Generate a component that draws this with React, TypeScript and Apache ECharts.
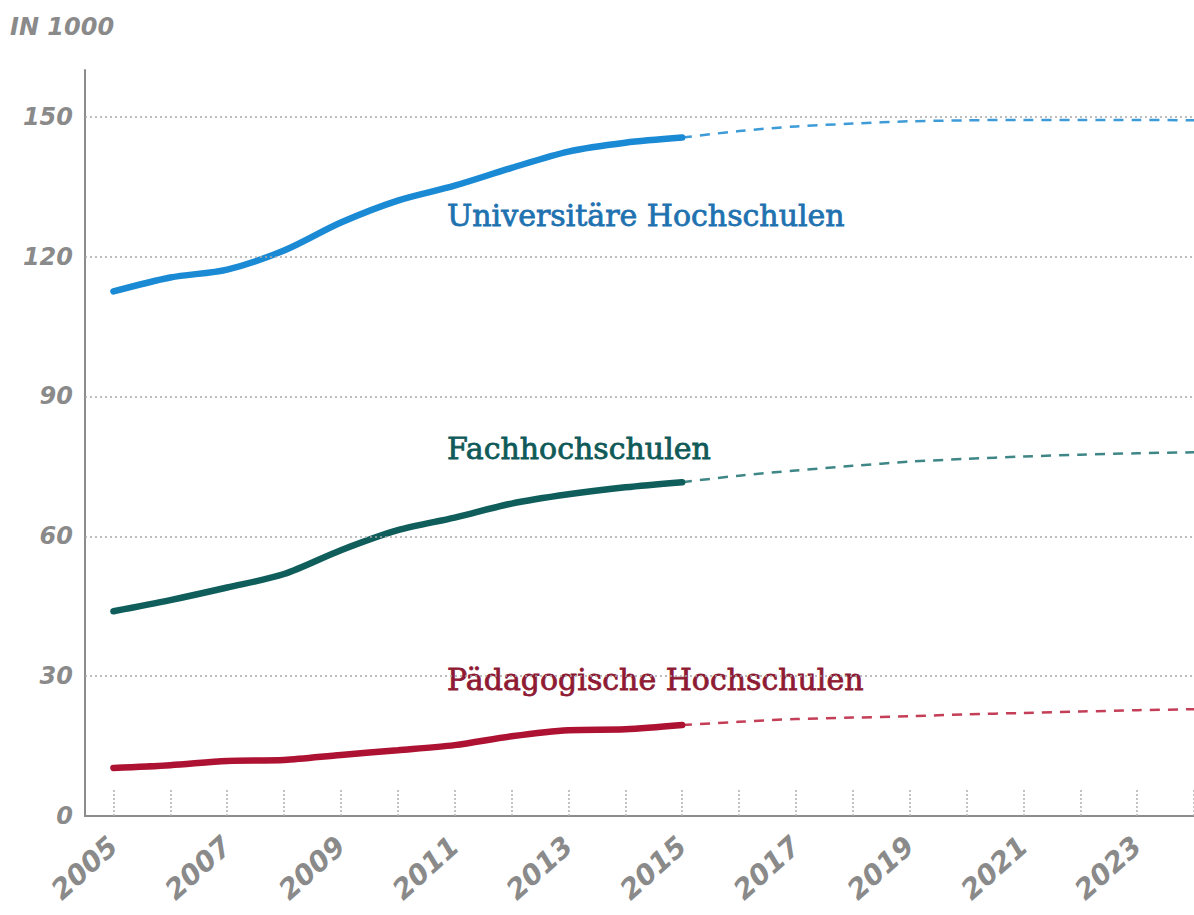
import React, { useEffect, useRef } from "react";
import * as echarts from "echarts";

const histYears = [2005, 2006, 2007, 2008, 2009, 2010, 2011, 2012, 2013, 2014, 2015];
const foreYears = [2015, 2016, 2017, 2018, 2019, 2020, 2021, 2022, 2023, 2024];

const uniHist = [112.5, 115.5, 117.2, 121.3, 127.3, 132, 135.2, 139, 142.5, 144.4, 145.5];
const uniFore = [145.5, 146.9, 147.9, 148.5, 149, 149.2, 149.3, 149.3, 149.3, 149.2];

const fhHist = [43.9, 46.3, 49, 51.9, 57, 61.3, 64, 67, 69, 70.5, 71.6];
const fhFore = [71.6, 73, 74.1, 75.1, 76, 76.6, 77.1, 77.5, 77.8, 78];

const phHist = [10.3, 10.9, 11.8, 12, 13.1, 14.1, 15.2, 17.1, 18.4, 18.6, 19.5];
const phFore = [19.5, 20.2, 20.8, 21.1, 21.4, 21.8, 22.1, 22.4, 22.7, 22.9];

const labelYears = [2005, 2007, 2009, 2011, 2013, 2015, 2017, 2019, 2021, 2023];
const tickYears = [2005, 2006, 2007, 2008, 2009, 2010, 2011, 2012, 2013, 2014, 2015, 2016, 2017, 2018, 2019, 2020, 2021, 2022, 2023, 2024];
const yTicks = [0, 30, 60, 90, 120, 150];
const gridValues = [30, 60, 90, 120, 150];

const seriesNames = ["Universitäre Hochschulen", "Fachhochschulen", "Pädagogische Hochschulen"];
const seriesColors = ["#1a8ad4", "#0f5e5c", "#ad1232"];
const dashColors = ["#3d9bd8", "#3f8787", "#c53e57"];
const labelColors = ["#1f72b0", "#0f5a58", "#8e1a33"];
const unitLabel = "IN 1000";

const zip = (xs: number[], ys: number[]) => xs.map((x, i) => [x, ys[i]]);

export default function App() {
  const ref = useRef<HTMLDivElement>(null);
  useEffect(() => {
    if (!ref.current) return;
    const chart = echarts.init(ref.current, null, { renderer: "svg" });
    const axisFont = {
      fontFamily: "DejaVu Sans",
      fontWeight: "bold" as const,
      fontStyle: "italic" as const,
      color: "#8a8a8a",
    };
    const hist = [uniHist, fhHist, phHist];
    const fore = [uniFore, fhFore, phFore];
    const series: any[] = [];
    hist.forEach((h, i) => {
      series.push({
        type: "line",
        name: seriesNames[i],
        data: zip(histYears, h),
        smooth: 0.3,
        showSymbol: false,
        lineStyle: { color: seriesColors[i], width: 6.5, cap: "round" },
        z: 3,
      });
      series.push({
        type: "line",
        name: seriesNames[i] + " Prognose",
        data: zip(foreYears, fore[i]),
        smooth: 0.3,
        showSymbol: false,
        lineStyle: { color: dashColors[i], width: 2.5, type: [10, 8] },
        z: 2,
      });
    });
    const labelY = [215, 448, 679];
    chart.setOption({
      animation: false,
      backgroundColor: "#ffffff",
      grid: { left: 85, top: 70, width: 1111, height: 746, containLabel: false },
      xAxis: {
        type: "value",
        min: 2004.5,
        max: 2024,
        axisLine: { show: true, lineStyle: { color: "#8c8c8c", width: 2 } },
        axisTick: {
          show: true,
          inside: true,
          length: 26,
          customValues: tickYears,
          lineStyle: { color: "#b0b0b0", width: 1.5, type: [2, 2] },
        },
        axisLabel: {
          customValues: labelYears,
          rotate: 42,
          margin: 26,
          fontSize: 28,
          ...axisFont,
          formatter: (v: number) => String(Math.round(v)),
        },
        splitLine: { show: false },
      },
      yAxis: {
        type: "value",
        min: 0,
        max: 160,
        axisLine: { show: true, lineStyle: { color: "#8c8c8c", width: 2 } },
        axisTick: { show: false },
        axisLabel: {
          customValues: yTicks,
          margin: 12,
          fontSize: 24,
          ...axisFont,
        },
        splitLine: { show: false },
      },
      series: [
        ...series,
        {
          type: "line",
          data: [],
          markLine: {
            silent: true,
            symbol: "none",
            label: { show: false },
            lineStyle: { color: "#a8a8a8", width: 1.5, type: [2, 3] },
            data: gridValues.map((v) => ({ yAxis: v })),
          },
        },
      ],
      graphic: [
        {
          type: "text",
          left: 10,
          top: 15,
          style: {
            text: unitLabel,
            fontSize: 24,
            fontFamily: "DejaVu Sans",
            fontWeight: "bold",
            fontStyle: "italic",
            fill: "#8a8a8a",
          },
        },
        ...seriesNames.map((n, i) => ({
          type: "text",
          x: 447,
          y: labelY[i],
          style: {
            text: n,
            fontSize: 30,
            fontFamily: "DejaVu Serif",
            fill: labelColors[i],
            stroke: labelColors[i],
            lineWidth: 0.8,
            verticalAlign: "middle",
            align: "left",
          },
        })),
      ],
    });
    return () => chart.dispose();
  }, []);
  return (
    <div
      ref={ref}
      style={{ position: "absolute", left: 0, top: 0, width: 1194, height: 915 }}
    />
  );
}
